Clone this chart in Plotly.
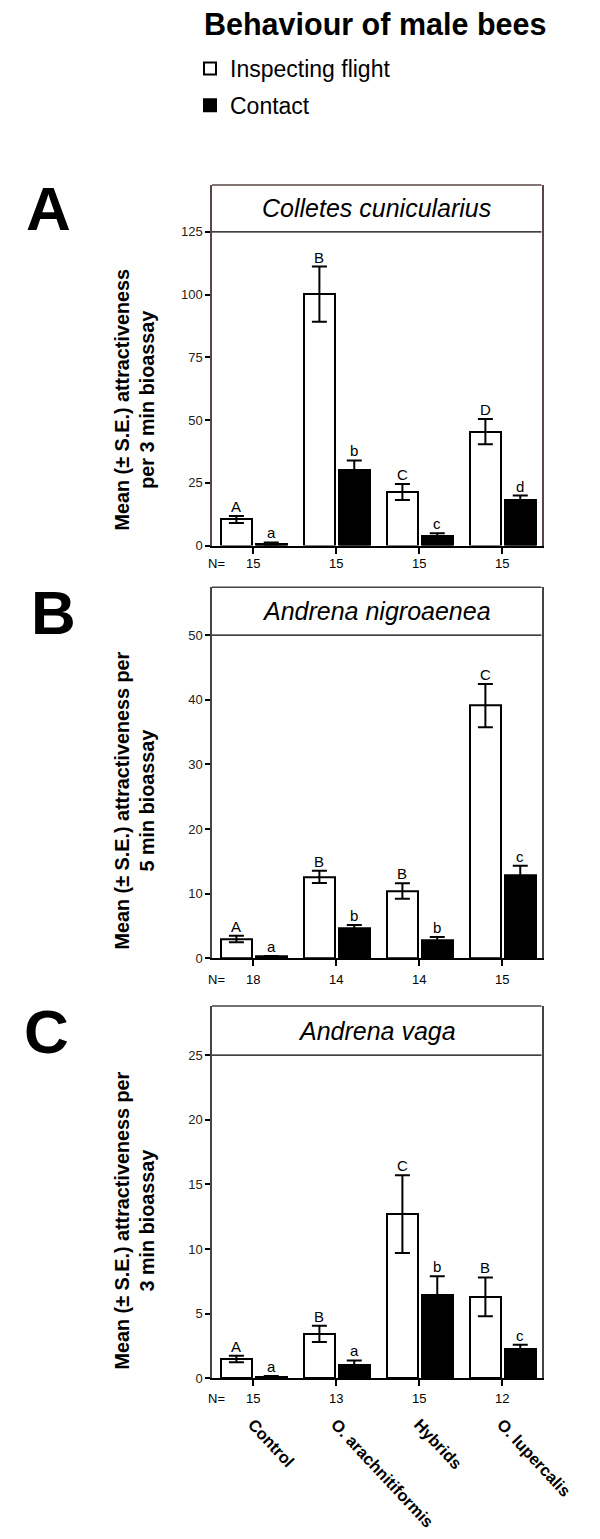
import plotly.graph_objects as go

# ---------------- data ----------------
categories = ["Control", "O. arachnitiformis", "Hybrids", "O. lupercalis"]
series_names = ["Inspecting flight", "Contact"]

panel_letters = ["A", "B", "C"]
species = ["Colletes cunicularius", "Andrena nigroaenea", "Andrena vaga"]
y_titles = ["Mean (± S.E.) attractiveness<br>per 3 min bioassay",
            "Mean (± S.E.) attractiveness per<br>5 min bioassay",
            "Mean (± S.E.) attractiveness per<br>3 min bioassay"]

# Panel A - Colletes cunicularius
a_insp = [10.4, 100.2, 21.3, 45.4]
a_insp_se = [1.4, 11.0, 3.2, 5.0]
a_cont = [0.7, 29.9, 3.9, 18.1]
a_cont_se = [0.5, 4.0, 1.0, 1.8]
a_insp_sig = ["A", "B", "C", "D"]
a_cont_sig = ["a", "b", "c", "d"]
a_n = [15, 15, 15, 15]

# Panel B - Andrena nigroaenea
b_insp = [3.0, 12.6, 10.4, 39.1]
b_insp_se = [0.5, 0.95, 1.2, 3.35]
b_cont = [0.26, 4.6, 2.8, 12.9]
b_cont_se = [0.1, 0.55, 0.5, 1.4]
b_insp_sig = ["A", "B", "B", "C"]
b_cont_sig = ["a", "b", "b", "c"]
b_n = [18, 14, 14, 15]

# Panel C - Andrena vaga
c_insp = [1.49, 3.44, 12.7, 6.3]
c_insp_se = [0.25, 0.63, 3.0, 1.5]
c_cont = [0.13, 1.03, 6.45, 2.3]
c_cont_se = [0.05, 0.35, 1.45, 0.3]
c_insp_sig = ["A", "B", "C", "B"]
c_cont_sig = ["a", "a", "b", "c"]
c_n = [15, 13, 15, 12]

# axis settings
y_ticks = [[0, 25, 50, 75, 100, 125], [0, 10, 20, 30, 40, 50], [0, 5, 10, 15, 20, 25]]
y_box = [125, 50, 25]          # value of the line under the species box
y_top = [143.7, 57.4, 28.8]    # top of frame

# ---------------- layout helpers ----------------
W, H = 600, 1539
PAGE_OFF = 8   # default body margin of the html page
FONT = "Liberation Sans, Arial, Helvetica, sans-serif"


def py(px):
    return 1 - (px - PAGE_OFF) / H


def px_x(px):
    return (px - PAGE_OFF) / W


panels = [
    dict(insp=a_insp, insp_se=a_insp_se, cont=a_cont, cont_se=a_cont_se,
         isig=a_insp_sig, csig=a_cont_sig, n=a_n, top=185, zero=545.5,
         frame="#5a4646", letter_xy=(48.5, 208.5), title_y=400, n_y=563),
    dict(insp=b_insp, insp_se=b_insp_se, cont=b_cont, cont_se=b_cont_se,
         isig=b_insp_sig, csig=b_cont_sig, n=b_n, top=587.3, zero=958.3,
         frame="#444444", letter_xy=(53.5, 612.5), title_y=801, n_y=979),
    dict(insp=c_insp, insp_se=c_insp_se, cont=c_cont, cont_se=c_cont_se,
         isig=c_insp_sig, csig=c_cont_sig, n=c_n, top=1006, zero=1378.3,
         frame="#444444", letter_xy=(46.5, 1031.5), title_y=1221, n_y=1398),
]

x_dom = [px_x(212), px_x(541.5)]
x_rng = [-0.494, 3.476]
xpos = [0, 1, 2, 3]
BW = 0.37
OFF_W = -0.385
OFF_B = 0.035

fig = go.Figure()
annotations = []
shapes = []

for i, p in enumerate(panels):
    sfx = "" if i == 0 else str(i + 1)
    xa, ya = "x" + sfx, "y" + sfx
    fig.add_trace(go.Bar(
        x=xpos, y=p["insp"], name=series_names[0], xaxis=xa, yaxis=ya,
        width=BW, offset=OFF_W, showlegend=(i == 0), legendgroup="insp",
        marker=dict(color="white", line=dict(color="black", width=2)),
        error_y=dict(type="data", array=p["insp_se"], visible=True,
                     color="black", thickness=2, width=7.5),
    ))
    fig.add_trace(go.Bar(
        x=xpos, y=p["cont"], name=series_names[1], xaxis=xa, yaxis=ya,
        width=BW, offset=OFF_B, showlegend=(i == 0), legendgroup="cont",
        marker=dict(color="black", line=dict(color="black", width=2)),
        error_y=dict(type="data", array=p["cont_se"], visible=True,
                     color="black", thickness=2, width=7.5),
    ))

    dom = [py(p["zero"]), py(p["top"])]
    fig.layout["xaxis" + sfx] = dict(
        domain=x_dom, range=x_rng, anchor=ya, showgrid=False, zeroline=False,
        automargin=False,
        showline=True, linecolor="black", linewidth=2, mirror=False,
        ticks="outside", ticklen=6, tickwidth=2, tickcolor="black",
        tickmode="array", tickvals=xpos, ticktext=categories,
        showticklabels=(i == 2), tickangle=47, ticklabelstandoff=22,
        tickfont=dict(family=FONT, size=16.5, color="black", weight="bold"),
    )
    fig.layout["yaxis" + sfx] = dict(
        domain=dom, range=[0, y_top[i]], anchor=xa, showgrid=False,
        zeroline=False, automargin=False,
        showline=True, linecolor=p["frame"], linewidth=1.5,
        mirror=True, ticks="outside", ticklen=5, tickwidth=1.5,
        tickcolor="black", tickmode="array", tickvals=y_ticks[i],
        tickfont=dict(family=FONT, size=13, color="#222222"),
    )
    # top border of frame
    shapes.append(dict(type="line", xref=xa + " domain", yref=ya + " domain",
                       x0=0, x1=1, y0=1, y1=1,
                       line=dict(color=p["frame"], width=1.5)))
    # line separating the species box
    shapes.append(dict(type="line", xref=xa + " domain", yref=ya,
                       x0=0, x1=1, y0=y_box[i], y1=y_box[i],
                       line=dict(color="black", width=1.3)))
    # species title
    annotations.append(dict(
        text=species[i], xref=xa + " domain", yref=ya, x=0.5,
        y=(y_box[i] + y_top[i]) / 2, yshift=0, xanchor="center",
        yanchor="middle", showarrow=False,
        font=dict(family=FONT, size=25, style="italic", color="black")))
    # panel letter
    annotations.append(dict(
        text="<b>" + panel_letters[i] + "</b>", xref="paper", yref="paper",
        x=px_x(p["letter_xy"][0]), y=py(p["letter_xy"][1]),
        xanchor="center", yanchor="middle", showarrow=False,
        font=dict(family=FONT, size=62, color="black")))
    # y-axis title
    annotations.append(dict(
        text="<b>" + y_titles[i] + "</b>", xref="paper", yref="paper",
        x=px_x(134.5), y=py(p["title_y"]), textangle=-90,
        xanchor="center", yanchor="middle", showarrow=False,
        font=dict(family=FONT, size=19.8, color="black")))
    # N row
    annotations.append(dict(
        text="N=", xref=xa + " domain", yref="paper", x=0, xshift=-6,
        y=py(p["n_y"]), xanchor="left", yanchor="middle", showarrow=False,
        font=dict(family=FONT, size=13, color="black")))
    for k in range(4):
        annotations.append(dict(
            text=str(p["n"][k]), xref=xa, yref="paper", x=xpos[k],
            y=py(p["n_y"]), xanchor="center", yanchor="middle",
            showarrow=False, font=dict(family=FONT, size=13, color="black")))
        # significance letters
        annotations.append(dict(
            text=p["isig"][k], xref=xa, yref=ya, x=xpos[k] + OFF_W + BW / 2,
            y=p["insp"][k] + p["insp_se"][k], xanchor="center",
            yanchor="bottom", yshift=-1, showarrow=False,
            font=dict(family=FONT, size=15, color="black")))
        annotations.append(dict(
            text=p["csig"][k], xref=xa, yref=ya, x=xpos[k] + OFF_B + BW / 2,
            y=p["cont"][k] + p["cont_se"][k], xanchor="center",
            yanchor="bottom", yshift=-1, showarrow=False,
            font=dict(family=FONT, size=15, color="black")))

fig.update_layout(
    width=W, height=H, margin=dict(l=0, r=0, t=0, b=0, autoexpand=False),
    paper_bgcolor="white", plot_bgcolor="white",
    barmode="overlay", bargap=0,
    title=dict(text="<b>Behaviour of male bees</b>", x=px_x(204),
               xanchor="left", y=py(24), yanchor="middle", automargin=False,
               font=dict(family=FONT, size=30.5, color="black")),
    legend=dict(x=px_x(190), y=py(47), xanchor="left", yanchor="top",
                font=dict(family=FONT, size=23, color="black"),
                bgcolor="rgba(0,0,0,0)", tracegroupgap=4),
    annotations=annotations, shapes=shapes,
    font=dict(family=FONT),
)

fig.write_html("out.html")
